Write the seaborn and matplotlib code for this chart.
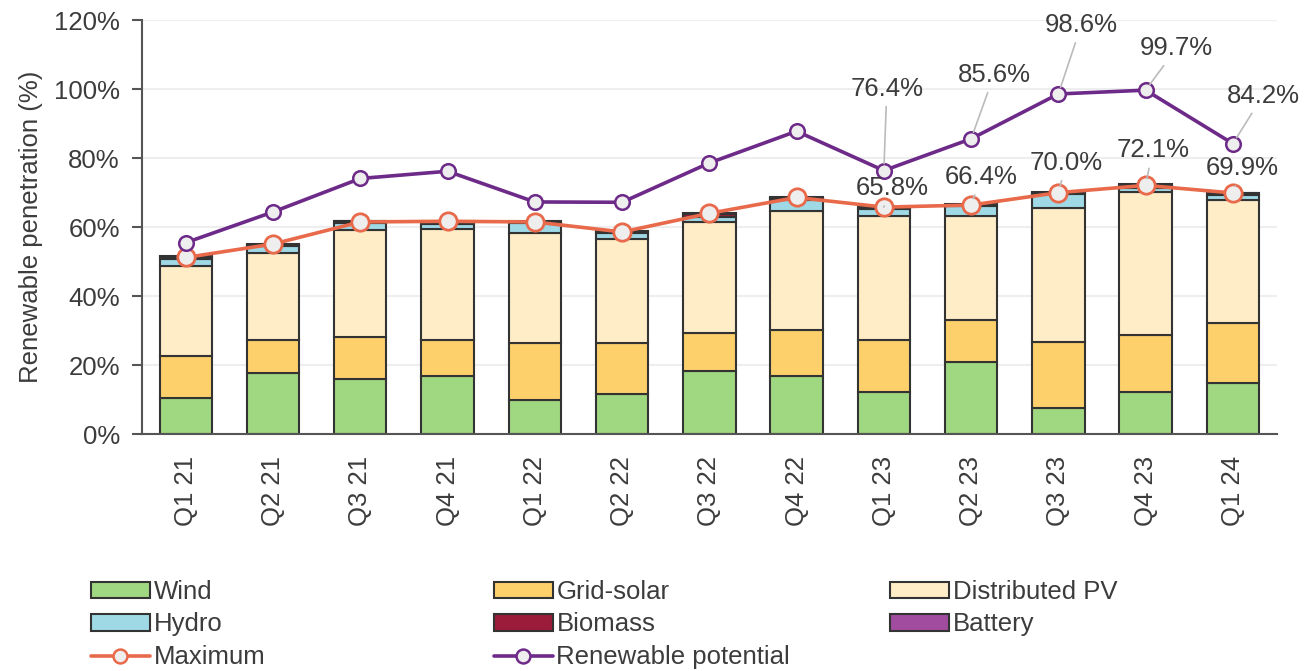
import numpy as np
import pandas as pd
import matplotlib
matplotlib.use("Agg")
import matplotlib.pyplot as plt
from matplotlib.patches import Patch
from matplotlib.lines import Line2D
import seaborn as sns

quarters = ["Q1 21", "Q2 21", "Q3 21", "Q4 21", "Q1 22", "Q2 22", "Q3 22",
            "Q4 22", "Q1 23", "Q2 23", "Q3 23", "Q4 23", "Q1 24"]
wind = [10.5, 17.6, 15.9, 16.9, 9.9, 11.6, 18.3, 16.8, 12.1, 21.0, 7.6, 12.1, 14.9]
grid_solar = [12.2, 9.8, 12.3, 10.5, 16.4, 14.9, 10.9, 13.5, 15.1, 12.0, 19.0, 16.6, 17.2]
distributed_pv = [26.1, 25.0, 30.9, 32.2, 31.9, 30.2, 32.2, 34.4, 36.1, 30.3, 39.0, 41.5, 35.7]
hydro = [2.1, 2.1, 2.0, 1.2, 2.9, 1.5, 1.6, 3.1, 2.1, 2.9, 3.9, 1.0, 1.5]
biomass = [0.5, 0.4, 0.6, 0.6, 0.5, 0.5, 0.9, 0.7, 0.4, 0.3, 0.5, 0.9, 0.5]
battery = [0.1, 0.1, 0.1, 0.1, 0.1, 0.1, 0.2, 0.1, 0.1, 0.1, 0.2, 0.3, 0.1]
maximum = [51.2, 55.1, 61.5, 61.7, 61.5, 58.6, 64.0, 68.6, 65.8, 66.4, 70.0, 72.1, 69.9]
renewable_potential = [55.5, 64.4, 74.1, 76.2, 67.3, 67.2, 78.6, 87.8, 76.4, 85.6, 98.6, 99.7, 84.2]

series_names = ["Wind", "Grid-solar", "Distributed PV", "Hydro", "Biomass", "Battery"]
series_vals = [wind, grid_solar, distributed_pv, hydro, biomass, battery]
series_colors = ["#A0D781", "#FDD06B", "#FFEDC8", "#9FD9E6", "#9A1C3A", "#A14C9F"]
max_color = "#E9694B"
rp_color = "#6D2A88"
face = "#EEEEEE"
txt = "#3C3C3C"
FS = 18.5

sns.set_theme(style="white")
plt.rcParams["font.family"] = ["Liberation Sans", "DejaVu Sans"]

fig = plt.figure(figsize=(13.16, 6.71), dpi=100)
ax = fig.add_axes([0.108, 0.353, 0.862, 0.617])

bottom = np.zeros(len(quarters))
for name, vals, col in zip(series_names, series_vals, series_colors):
    sns.barplot(x=quarters, y=vals, order=quarters, color=col, saturation=1,
                width=0.6, edgecolor="#333333", linewidth=1.5,
                bottom=bottom.copy(), ax=ax, zorder=2)
    bottom += np.array(vals)

sns.pointplot(x=quarters, y=maximum, order=quarters, color=max_color,
              markers="o", markersize=12.5, markerfacecolor=face,
              markeredgewidth=2, linewidth=2.6, errorbar=None, ax=ax, zorder=4)
sns.pointplot(x=quarters, y=renewable_potential, order=quarters, color=rp_color,
              markers="o", markersize=10.5, markerfacecolor=face,
              markeredgewidth=1.8, linewidth=2.6, errorbar=None, ax=ax, zorder=5)

ax.set_xlim(-0.5, len(quarters) - 0.5)
ax.set_ylim(0, 120)
ax.set_yticks(np.arange(0, 121, 20))
ax.set_yticklabels([f"{v}%" for v in range(0, 121, 20)])
ax.set_xticks(np.arange(len(quarters)))
ax.set_xticklabels(quarters, rotation=90)
ax.set_xticks(np.arange(len(quarters) + 1) - 0.5, minor=True)
ax.tick_params(axis="x", which="major", length=0, pad=16, labelsize=FS, labelcolor=txt)
ax.tick_params(axis="x", which="minor", length=7, width=1.5, color="#555555", direction="out")
ax.tick_params(axis="y", which="major", length=7, width=1.5, color="#555555",
               pad=9, labelsize=FS, labelcolor=txt, left=True)
ax.set_xlabel("")
ax.set_ylabel("Renewable penetration (%)", fontsize=FS, color=txt, labelpad=8)
ax.yaxis.grid(True, color="#EEEEEE", linewidth=1.5, zorder=0)
ax.set_axisbelow(True)
for s in ["top", "right"]:
    ax.spines[s].set_visible(False)
for s in ["left", "bottom"]:
    ax.spines[s].set_color("#555555")
    ax.spines[s].set_linewidth(1.5)

# annotations: (index, dx_px, dy_px)
rp_ann = [(8, 3, -82), (9, 23, -64), (10, 23, -69), (11, 31, -42), (12, 30, -48)]
mx_ann = [(8, 8, -19), (9, 10, -28), (10, 8, -30), (11, 7, -35), (12, 9, -25)]
for series, anns in ((renewable_potential, rp_ann), (maximum, mx_ann)):
    for i, dx, dy in anns:
        ax.annotate(f"{series[i]:.1f}%", xy=(i, series[i]), xytext=(dx, -dy),
                    textcoords="offset pixels", ha="center", va="center",
                    fontsize=FS, color=txt, zorder=6,
                    arrowprops=dict(arrowstyle="-", color="#BBBBBB", lw=1.2,
                                    shrinkA=2, shrinkB=5))

# legends (three columns)
def patch(c):
    return Patch(facecolor=c, edgecolor="#333333", linewidth=1.5)

def line(c):
    return Line2D([0], [0], color=c, lw=2.6, marker="o", markersize=10,
                  markerfacecolor=face, markeredgecolor=c, markeredgewidth=1.8)

cols = [
    ([patch(series_colors[0]), patch(series_colors[3]), line(max_color)],
     ["Wind", "Hydro", "Maximum"], 0.069),
    ([patch(series_colors[1]), patch(series_colors[4]), line(rp_color)],
     ["Grid-solar", "Biomass", "Renewable potential"], 0.375),
    ([patch(series_colors[2]), patch(series_colors[5])],
     ["Distributed PV", "Battery"], 0.676),
]
for handles, labels, x in cols:
    leg = fig.legend(handles, labels, loc="upper left", bbox_to_anchor=(x, 0.136),
                     frameon=False, fontsize=FS, handlelength=2.3, handleheight=0.6,
                     handletextpad=0.15, labelspacing=0.34, borderpad=0, borderaxespad=0)
    for t in leg.get_texts():
        t.set_color(txt)

fig.savefig("out.png", dpi=100)
